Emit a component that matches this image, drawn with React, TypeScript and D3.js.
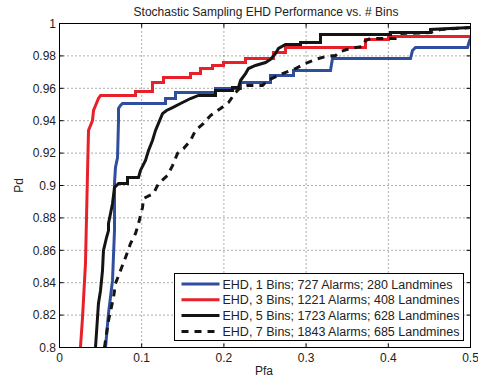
import React from "react";
import * as d3 from "d3";

const W = 478;
const H = 379;

const titleText = "Stochastic Sampling EHD Performance vs. # Bins";
const xLabel = "Pfa";
const yLabel = "Pd";

const xTicks = [0, 0.1, 0.2, 0.3, 0.4, 0.5];
const xTickLabels = ["0", "0.1", "0.2", "0.3", "0.4", "0.5"];
const yTicks = [0.8, 0.82, 0.84, 0.86, 0.88, 0.9, 0.92, 0.94, 0.96, 0.98, 1];
const yTickLabels = ["0.8", "0.82", "0.84", "0.86", "0.88", "0.9", "0.92", "0.94", "0.96", "0.98", "1"];

const seriesNames = [
  "EHD, 1 Bins; 727 Alarms; 280 Landmines",
  "EHD, 3 Bins; 1221 Alarms; 408 Landmines",
  "EHD, 5 Bins; 1723 Alarms; 628 Landmines",
  "EHD, 7 Bins; 1843 Alarms; 685 Landmines",
];
const seriesColors = ["#2f4f9e", "#e8202a", "#141414", "#141414"];
const seriesDash = [null, null, null, "7,6"];

// [Pfa, Pd]
const bins1: [number, number][] = [
  [0.056, 0.8], [0.0596, 0.821], [0.0645, 0.8414], [0.0669, 0.8722], [0.0669, 0.9012],
  [0.0681, 0.9111], [0.0706, 0.9173], [0.0718, 0.9401], [0.0718, 0.9475], [0.0742, 0.9494],
  [0.0766, 0.9506], [0.129, 0.9506], [0.129, 0.9537], [0.1411, 0.9537], [0.1411, 0.9574],
  [0.1898, 0.9574], [0.1898, 0.9599], [0.2202, 0.9599], [0.2202, 0.9636], [0.2567, 0.9636],
  [0.2567, 0.9679], [0.2847, 0.9679], [0.2847, 0.971], [0.3297, 0.971], [0.3321, 0.9784],
  [0.427, 0.9784], [0.4294, 0.9833], [0.4331, 0.9852], [0.4964, 0.9852], [0.4988, 0.9895],
  [0.5, 0.9907],
];

const bins3: [number, number][] = [
  [0.0255, 0.8], [0.028, 0.8185], [0.0316, 0.8519], [0.0341, 0.908], [0.0353, 0.934],
  [0.0401, 0.9401], [0.0414, 0.9463], [0.0474, 0.9537], [0.0499, 0.9556], [0.0925, 0.9556],
  [0.0925, 0.958], [0.1131, 0.958], [0.1131, 0.9636], [0.1265, 0.9636], [0.1265, 0.9667],
  [0.1594, 0.9667], [0.1594, 0.9691], [0.1715, 0.9691], [0.1715, 0.9722], [0.1861, 0.9722],
  [0.1861, 0.9741], [0.1995, 0.9741], [0.1995, 0.9759], [0.2263, 0.9759], [0.2263, 0.9784],
  [0.2603, 0.9784], [0.2603, 0.9821], [0.2749, 0.9821], [0.2749, 0.9852], [0.3723, 0.9852],
  [0.3723, 0.9901], [0.4002, 0.9901], [0.4002, 0.992], [0.5, 0.992],
];

const bins5: [number, number][] = [
  [0.0438, 0.8], [0.0474, 0.8272], [0.0499, 0.8352], [0.0523, 0.8475], [0.0535, 0.8599],
  [0.0572, 0.8679], [0.0596, 0.8722], [0.0596, 0.8765], [0.0645, 0.8889], [0.0669, 0.8988],
  [0.0718, 0.9012], [0.0827, 0.9012], [0.0827, 0.9049], [0.0961, 0.9049], [0.0985, 0.9093],
  [0.1046, 0.9154], [0.1083, 0.9216], [0.1131, 0.9278], [0.1168, 0.934], [0.1204, 0.9383],
  [0.1253, 0.9444], [0.1302, 0.9463], [0.1375, 0.9481], [0.1472, 0.9506], [0.1594, 0.9537],
  [0.1691, 0.9556], [0.1898, 0.9556], [0.1898, 0.9586], [0.2105, 0.9586], [0.2105, 0.9605],
  [0.2178, 0.9605], [0.2202, 0.9648], [0.2263, 0.9691], [0.2299, 0.9722], [0.2384, 0.9741],
  [0.2506, 0.9759], [0.2567, 0.9778], [0.2628, 0.9815], [0.2664, 0.9846], [0.2749, 0.987],
  [0.2932, 0.987], [0.2932, 0.9883], [0.3175, 0.9883], [0.3175, 0.9932], [0.4027, 0.9932],
  [0.4027, 0.9944], [0.4513, 0.9944], [0.4513, 0.9963], [0.5, 0.9975],
];

const bins7: [number, number][] = [
  [0.0547, 0.8], [0.0596, 0.8167], [0.0657, 0.8309], [0.0681, 0.8395], [0.0742, 0.8475],
  [0.0803, 0.8556], [0.0864, 0.8642], [0.0925, 0.8704], [0.0961, 0.8765], [0.101, 0.8864],
  [0.1022, 0.892], [0.1144, 0.8951], [0.1204, 0.9012], [0.1314, 0.9062], [0.1375, 0.9123],
  [0.1436, 0.9198], [0.1509, 0.9228], [0.1594, 0.9278], [0.1655, 0.934], [0.1752, 0.9383],
  [0.1837, 0.9432], [0.1959, 0.9475], [0.2056, 0.9512], [0.2141, 0.9574], [0.2202, 0.9605],
  [0.2287, 0.9617], [0.247, 0.9617], [0.253, 0.9648], [0.2713, 0.9691], [0.2871, 0.9722],
  [0.2993, 0.9753], [0.3114, 0.9778], [0.3236, 0.9796], [0.3358, 0.9802], [0.3418, 0.9827],
  [0.354, 0.9846], [0.3686, 0.9858], [0.3723, 0.9895], [0.3783, 0.9907], [0.4088, 0.9907],
  [0.4148, 0.9938], [0.4513, 0.9944], [0.4635, 0.9963], [0.5, 0.9975],
];

const seriesData = [bins1, bins3, bins5, bins7];

const FONT = "'Liberation Sans', Arial, Helvetica, sans-serif";

export default function App() {
  const left = 59.5, right = 470.5, top = 23.5, bottom = 347.5;
  const x = d3.scaleLinear().domain([0, 0.5]).range([left, right]);
  const y = d3.scaleLinear().domain([0.8, 1]).range([bottom, top]);
  const line = d3
    .line<[number, number]>()
    .x((d) => x(d[0]))
    .y((d) => y(d[1]));

  const legX = 174.5, legY = 273.5, legW = 289, legH = 67;
  const rowH = 15.8;

  return (
    <svg
      width={W}
      height={H}
      style={{ position: "absolute", left: 0, top: 0, background: "#fff" }}
      fontFamily={FONT}
    >
      <rect x={0} y={0} width={W} height={H} fill="#fff" />
      <defs>
        <clipPath id="plotClip">
          <rect x={left} y={top - 2} width={right - left} height={bottom - top + 2} />
        </clipPath>
      </defs>
      {/* grid */}
      {xTicks.slice(1, -1).map((t, i) => (
        <line key={"gx" + i} x1={x(t)} x2={x(t)} y1={top} y2={bottom} stroke="#333" strokeWidth={0.8} strokeDasharray="1,3" />
      ))}
      {yTicks.slice(1, -1).map((t, i) => (
        <line key={"gy" + i} x1={left} x2={right} y1={y(t)} y2={y(t)} stroke="#333" strokeWidth={0.8} strokeDasharray="1,3" />
      ))}
      {/* ticks */}
      {xTicks.map((t, i) => (
        <g key={"tx" + i}>
          <line x1={x(t)} x2={x(t)} y1={bottom} y2={bottom - 4} stroke="#000" />
          <line x1={x(t)} x2={x(t)} y1={top} y2={top + 4} stroke="#000" />
          <text x={x(t)} y={362} fontSize={12} textAnchor="middle" fill="#222">
            {xTickLabels[i]}
          </text>
        </g>
      ))}
      {yTicks.map((t, i) => (
        <g key={"ty" + i}>
          <line x1={left} x2={left + 4} y1={y(t)} y2={y(t)} stroke="#000" />
          <line x1={right} x2={right - 4} y1={y(t)} y2={y(t)} stroke="#000" />
          <text x={56} y={y(t) + 4.3} fontSize={12} textAnchor="end" fill="#222">
            {yTickLabels[i]}
          </text>
        </g>
      ))}
      {/* series */}
      <g clipPath="url(#plotClip)">
        {seriesData.map((d, i) => (
          <path
            key={"s" + i}
            d={line(d) || ""}
            fill="none"
            stroke={seriesColors[i]}
            strokeWidth={3}
            strokeDasharray={seriesDash[i] || undefined}
          />
        ))}
      </g>
      {/* box */}
      <rect x={left} y={top} width={right - left} height={bottom - top} fill="none" stroke="#000" strokeWidth={1} />
      {/* labels */}
      <text x={(left + right) / 2 + 1} y={16} fontSize={12} textAnchor="middle" fill="#222">
        {titleText}
      </text>
      <text x={264} y={375} fontSize={12} textAnchor="middle" fill="#222">
        {xLabel}
      </text>
      <text transform={`translate(23, ${(top + bottom) / 2}) rotate(-90)`} fontSize={12} textAnchor="middle" fill="#222">
        {yLabel}
      </text>
      {/* legend */}
      <rect x={legX} y={legY} width={legW} height={legH} fill="#fff" stroke="#000" strokeWidth={1} />
      {seriesNames.map((n, i) => {
        const cy = legY + 10.5 + i * rowH;
        return (
          <g key={"l" + i}>
            <line
              x1={legX + 7}
              x2={legX + 45}
              y1={cy}
              y2={cy}
              stroke={seriesColors[i]}
              strokeWidth={3}
              strokeDasharray={seriesDash[i] || undefined}
            />
            <text x={legX + 48} y={cy + 4.5} fontSize={12.5} fill="#222">
              {n}
            </text>
          </g>
        );
      })}
    </svg>
  );
}
